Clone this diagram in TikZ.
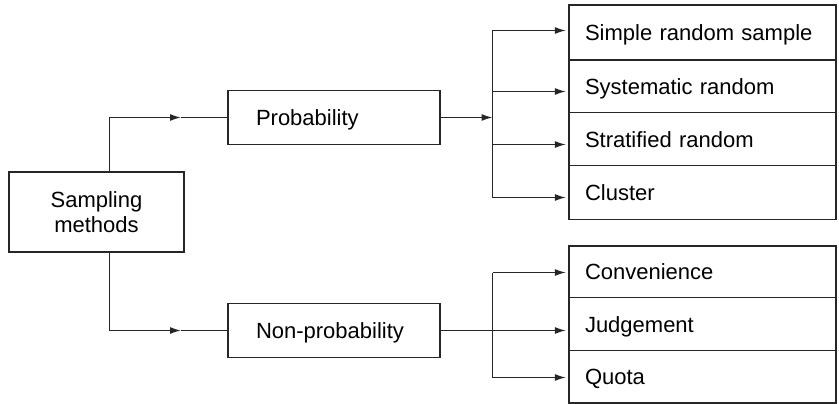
\documentclass[tikz,border=0pt]{standalone}
\usepackage{fontspec}
\setmainfont{Liberation Sans}
\usetikzlibrary{arrows.meta}
\begin{document}
\begin{tikzpicture}[x=1pt,y=-1pt,
  every node/.style={font=\fontsize{22}{25}\selectfont},
  box/.style={draw=black!85, line width=1.3pt, inner ysep=0pt},
  midbox/.style={box, minimum width=212pt, minimum height=54pt, inner xsep=28pt,
    text width=156pt, align=left, text height=16pt, text depth=0pt},
  rowbox/.style={box, minimum width=267pt, inner xsep=16pt,
    text width=235pt, align=left, text height=16pt, text depth=0pt},
  ln/.style={draw=black!85, line width=1.4pt},
  arr/.style={ln, -{Latex[length=11pt,width=7pt]}},
  arrs/.style={arr, shorten >=2.5pt}
]
\useasboundingbox (0,0) rectangle (839,404);
% main boxes
\node[box, minimum width=175pt, minimum height=80pt, align=center] (samp) at (96.5,212) {Sampling\\methods};
\node[midbox] (prob) at (334,117.5) {Probability};
\node[midbox] (np) at (334,330.5) {Non-probability};
% right group 1
\node[rowbox, minimum height=55pt] (r1) at (702.5,32.5) {Simple random sample};
\node[rowbox, minimum height=52.7pt] (r2) at (702.5,86.35) {Systematic random};
\node[rowbox, minimum height=53pt] (r3) at (702.5,139.2) {Stratified random};
\node[rowbox, minimum height=53.6pt] (r4) at (702.5,192.5) {Cluster};
% right group 2
\node[rowbox, minimum height=51.3pt] (r5) at (702.5,271.65) {Convenience};
\node[rowbox, minimum height=53.4pt] (r6) at (702.5,324) {Judgement};
\node[rowbox, minimum height=52.3pt] (r7) at (702.5,376.85) {Quota};
% junction coordinates
\coordinate (j1) at (109.5,117.5);
\coordinate (a1) at (181,117.5);
\coordinate (j2) at (109.5,330.5);
\coordinate (a2) at (181,330.5);
\coordinate (b1) at (492.5,117.5);
\coordinate (b1t) at (492.5,30.5);
\coordinate (b1a) at (492.5,91.5);
\coordinate (b1b) at (492.5,144.5);
\coordinate (b1c) at (492.5,197.5);
\coordinate (b2t) at (492.5,272.5);
\coordinate (b2b) at (492.5,377.5);
% Sampling -> Probability
\draw[arr] (samp.north -| j1) -- (j1) -- (a1);
\draw[ln] (a1) -- (prob.west);
% Sampling -> Non-probability
\draw[arr] (samp.south -| j2) -- (j2) -- (a2);
\draw[ln] (a2) -- (np.west);
% Probability -> bus
\draw[arr] (prob.east) -- (b1);
\draw[ln] (b1t) -- (b1c);
\draw[arrs] (b1t) -- (b1t -| r1.west);
\draw[arrs] (b1a) -- (b1a -| r2.west);
\draw[arrs] (b1b) -- (b1b -| r3.west);
\draw[arrs] (b1c) -- (b1c -| r4.west);
% Non-probability -> bus
\draw[ln] (b2t) -- (b2b);
\draw[arrs] (np.east) -- (np.east -| r6.west);
\draw[arrs] (b2t) -- (b2t -| r5.west);
\draw[arrs] (b2b) -- (b2b -| r7.west);
\end{tikzpicture}
\end{document}
